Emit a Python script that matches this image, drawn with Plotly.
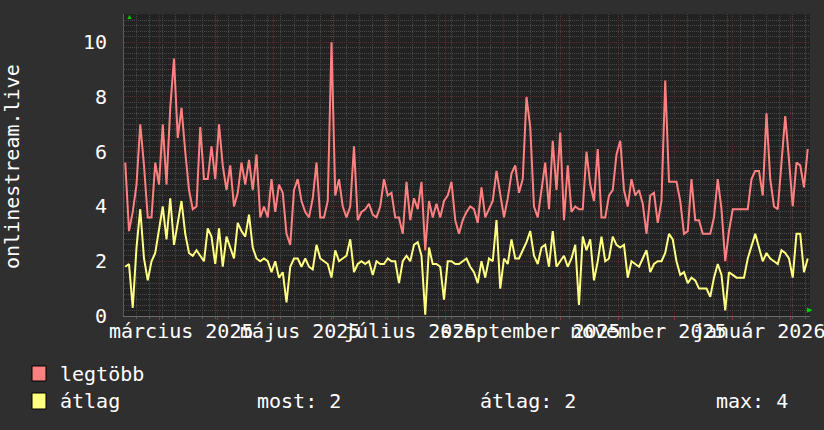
import pandas as pd
import plotly.graph_objects as go

# Adatok (2 naponkénti minták)
kezdet = "2025-02-11"

legtobb = [
    5.6, 3.1, 3.8, 4.8, 7.0, 5.5, 3.6, 3.6, 5.6, 4.8, 7.0, 4.8, 7.6, 9.4, 6.5, 7.6,
    6.0, 4.6, 3.9, 4.0, 6.9, 5.0, 5.0, 6.2, 5.0, 7.0, 5.5, 4.6, 5.5, 4.0, 4.5,
    5.6, 4.8, 5.7, 4.6, 5.9, 3.6, 4.0, 3.6, 5.0, 3.8, 4.8, 4.5, 3.0, 2.6, 4.6, 5.0,
    4.2, 3.8, 3.6, 4.3, 5.6, 3.6, 3.6, 4.2, 10.0, 4.4, 5.0, 4.0, 3.6, 4.0, 6.2,
    3.5, 3.8, 3.9, 4.1, 3.7, 3.6, 4.0, 5.0, 4.4, 4.5, 3.6, 3.6, 3.0, 4.9, 3.5, 4.3,
    3.9, 4.9, 2.4, 4.2, 3.6, 4.1, 3.6, 4.2, 4.4, 4.9, 3.5, 3.0, 3.5, 3.8, 4.0,
    3.9, 3.4, 4.7, 3.6, 3.9, 4.2, 5.3, 4.4, 3.6, 4.3, 5.2, 5.5, 4.5, 5.0, 8.0, 6.9,
    4.0, 3.6, 4.6, 5.6, 3.9, 6.4, 4.6, 6.7, 3.5, 5.5, 3.8, 4.0, 3.9, 3.9,
    6.0, 4.8, 4.2, 6.1, 3.6, 3.6, 4.4, 4.6, 5.9, 6.4, 4.6, 4.0, 5.0, 4.4, 4.6, 4.1,
    3.0, 4.4, 4.5, 3.4, 4.2, 8.6, 4.9, 4.9, 4.9, 4.2, 3.0, 3.1, 5.0, 3.5, 3.5,
    3.0, 3.0, 3.0, 3.6, 5.0, 3.9, 2.0, 3.1, 3.9, 3.9, 3.9, 3.9, 3.9, 5.0, 5.3, 5.3,
    4.4, 7.4, 5.0, 4.0, 3.9, 5.6, 7.3, 5.7, 4.0, 5.6, 5.5, 4.7, 6.1,
]

atlag = [
    1.8, 1.9, 0.3, 2.5, 3.9, 2.1, 1.3, 2.0, 2.3, 3.1, 4.0, 2.8, 4.3, 2.6, 3.4, 4.2,
    3.0, 2.3, 2.2, 2.4, 2.2, 2.0, 3.2, 2.9, 1.9, 3.2, 1.8, 2.9, 2.5, 2.1, 3.4,
    3.1, 2.9, 3.7, 2.5, 2.1, 2.0, 2.1, 2.0, 1.6, 2.0, 1.4, 1.6, 0.5, 1.8, 2.1, 2.1,
    1.8, 2.1, 1.8, 1.7, 2.6, 2.1, 2.0, 1.9, 1.4, 2.4, 2.0, 2.1, 2.2, 2.8, 1.6,
    1.9, 2.0, 1.9, 2.0, 1.5, 2.0, 1.9, 1.9, 2.1, 2.0, 2.0, 1.2, 2.0, 2.2, 2.0, 2.6,
    2.7, 2.2, 0.05, 2.5, 1.9, 1.9, 1.8, 0.6, 2.0, 2.0, 1.9, 1.9, 2.0, 2.1, 1.8,
    1.6, 1.2, 2.0, 1.4, 2.1, 2.0, 3.5, 1.0, 2.1, 1.9, 2.8, 2.1, 2.1, 2.4, 2.7, 3.1,
    2.2, 1.9, 2.5, 2.6, 1.8, 3.1, 1.8, 2.0, 2.2, 1.8, 2.1, 2.6, 0.4, 2.9,
    2.4, 2.8, 1.3, 2.0, 2.9, 2.0, 2.1, 2.9, 2.6, 2.5, 2.6, 1.4, 2.0, 1.9, 1.8, 2.1,
    2.4, 1.6, 1.9, 2.0, 2.0, 2.3, 3.0, 2.8, 2.0, 1.5, 1.6, 1.2, 1.4, 1.3, 1.0,
    1.0, 1.0, 0.7, 1.4, 1.9, 1.5, 0.2, 1.6, 1.5, 1.4, 1.4, 1.4, 2.1, 2.6, 3.0, 2.5,
    2.0, 2.3, 2.1, 2.0, 1.9, 2.4, 2.3, 2.1, 1.4, 3.0, 3.0, 1.6, 2.1,
]

honap_cimkek = ["március 2025", "május 2025", "július 2025",
                "szeptember 2025", "november 2025", "január 2026"]
honap_datumok = ["2025-03-13", "2025-05-15", "2025-07-13",
                 "2025-09-15", "2025-11-17", "2026-01-15"]

nev_max = "legtöbb"
nev_atlag = "átlag"
tengely_cim = "onlinestream.live"

datumok = pd.date_range(kezdet, periods=len(legtobb), freq="2D")

# Színek, méretek
PIROS = "#ff8080"
SARGA = "#ffff80"
HATTER = "#2f2f2f"
VASZON = "#222222"
FONT = "DejaVu Sans Mono"
RACS_FO = "#5c2c2c"
RACS_MELLEK = "#484848"

W, H = 824, 430
L, R, T, B = 124, 810, 14, 316


def px(x):
    return (x - L) / (R - L)


def py(y):
    return (B - y) / (B - T)


fig = go.Figure()

fig.add_trace(
    go.Scatter(x=datumok, y=legtobb, mode="lines", name=nev_max,
               line=dict(color=PIROS, width=2), showlegend=False)
)
fig.add_trace(
    go.Scatter(x=datumok, y=atlag, mode="lines", name=nev_atlag,
               line=dict(color=SARGA, width=2), showlegend=False)
)

# Hónapcímkék a tengely alatt
for cimke, datum in zip(honap_cimkek, honap_datumok):
    fig.add_annotation(
        x=datum, y=py(331), xref="x", yref="paper", text=cimke,
        showarrow=False, xanchor="center", yanchor="middle",
        font=dict(family=FONT, size=20, color="white"),
    )

# Függőleges tengelycím
fig.add_annotation(
    x=px(12), y=py(167), xref="paper", yref="paper", text=tengely_cim,
    textangle=-90, showarrow=False, xanchor="center", yanchor="middle",
    font=dict(family=FONT, size=20, color="white"),
)

# Zöld nyilak a tengelyek végén
fig.add_annotation(x=px(124), y=py(10), xref="paper", yref="paper", text="▲",
                   showarrow=False, font=dict(size=7, color="#00d000"))
fig.add_annotation(x=px(815), y=py(316), xref="paper", yref="paper", text="▶",
                   showarrow=False, font=dict(size=7, color="#00d000"))

# Jelmagyarázat
szoveg = dict(family=FONT, size=20, color="white")
for y0, y1, szin, nev in [(366, 381, PIROS, nev_max), (393, 409, SARGA, nev_atlag)]:
    fig.add_shape(type="rect", xref="paper", yref="paper",
                  x0=px(32), x1=px(46), y0=py(y1), y1=py(y0),
                  fillcolor=szin, line=dict(color="black", width=1))
    fig.add_annotation(x=px(58), y=py((y0 + y1) / 2), xref="paper", yref="paper",
                       text=nev, showarrow=False, xanchor="left", yanchor="middle",
                       font=szoveg)

most = atlag[-1]
atl = sum(atlag) / len(atlag)
mx = max(atlag)
for x0, t in [(255, f"most: {most:.0f}"), (478, f"átlag: {atl:.0f}"), (714, f"max: {mx:.0f}")]:
    fig.add_annotation(x=px(x0), y=py(401), xref="paper", yref="paper",
                       text=t, showarrow=False, xanchor="left", yanchor="middle",
                       font=szoveg)

fig.update_layout(
    width=W,
    height=H,
    margin=dict(l=L, r=W - R, t=T, b=H - B),
    paper_bgcolor=HATTER,
    plot_bgcolor=VASZON,
    showlegend=False,
    xaxis=dict(
        type="date",
        range=["2025-02-10 08:00", "2026-02-11 05:00"],
        tick0="2025-03-01",
        dtick="M1",
        showticklabels=False,
        showgrid=True,
        gridcolor=RACS_FO,
        griddash="1px,1px",
        gridwidth=1,
        ticks="outside",
        ticklen=3,
        tickcolor="#8a3838",
        showline=True,
        linecolor="#6a6a6a",
        zeroline=False,
        minor=dict(
            tick0="2025-02-10",
            dtick=7 * 86400000,
            showgrid=True,
            gridcolor=RACS_MELLEK,
            griddash="1px,1px",
            ticks="outside",
            ticklen=2,
            tickcolor="#5a5a5a",
        ),
    ),
    yaxis=dict(
        range=[0, 11.03],
        tick0=0,
        dtick=2,
        showgrid=True,
        gridcolor=RACS_FO,
        griddash="1px,1px",
        gridwidth=1,
        zeroline=False,
        showline=True,
        linecolor="#5a5a5a",
        ticks="",
        ticklabelstandoff=12,
        tickfont=dict(family=FONT, size=20, color="white"),
        minor=dict(
            dtick=0.2,
            showgrid=True,
            gridcolor=RACS_MELLEK,
            griddash="1px,1px",
        ),
    ),
)

# a böngésző alapértelmezett body-margóját kikapcsoljuk
fig.write_html(
    "out.html",
    config={"displayModeBar": False},
    post_script="document.body.style.margin='0';document.body.style.background='#2f2f2f';",
)
